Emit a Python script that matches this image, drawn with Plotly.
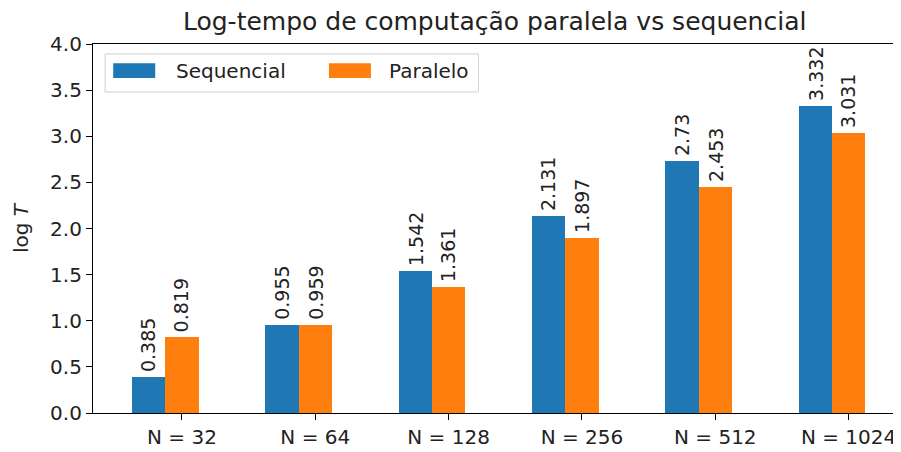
import plotly.graph_objects as go

categories = ["N = 32", "N = 64", "N = 128", "N = 256", "N = 512", "N = 1024"]
sequencial = [0.385, 0.955, 1.542, 2.131, 2.73, 3.332]
paralelo = [0.819, 0.959, 1.361, 1.897, 2.453, 3.031]
labels_seq = ["0.385", "0.955", "1.542", "2.131", "2.73", "3.332"]
labels_par = ["0.819", "0.959", "1.361", "1.897", "2.453", "3.031"]

BLUE = "#1f77b4"
ORANGE = "#ff7f0e"
FONT = "DejaVu Sans"
width = 0.25

pos = list(range(len(categories)))
x_seq = [p - width for p in pos]
x_par = pos

fig = go.Figure()
fig.add_trace(go.Bar(x=x_seq, y=sequencial, width=width, marker=dict(color=BLUE, line=dict(width=0)),
                     name="Sequencial", showlegend=False))
fig.add_trace(go.Bar(x=x_par, y=paralelo, width=width, marker=dict(color=ORANGE, line=dict(width=0)),
                     name="Paralelo", showlegend=False))

# value labels, rotated like the original
for xs, ys, ls in [(x_seq, sequencial, labels_seq), (x_par, paralelo, labels_par)]:
    for x, y, t in zip(xs, ys, ls):
        fig.add_annotation(x=x, y=y, text=t, textangle=-90, showarrow=False,
                           xanchor="center", yanchor="bottom", yshift=3,
                           font=dict(family=FONT, size=19, color="#222"))

# legend drawn by hand (matplotlib style wide patches)
fig.add_shape(type="rect", xref="paper", yref="paper", x0=0.015, x1=0.477, y0=0.870, y1=0.973,
              line=dict(color="#d0d0d0", width=1), fillcolor="white", layer="above")
for x0, tx, color, txt in [(0.025, 0.1003, BLUE, "Sequencial"), (0.292, 0.364, ORANGE, "Paralelo")]:
    fig.add_shape(type="rect", xref="paper", yref="paper", x0=x0, x1=x0 + 0.052, y0=0.908, y1=0.948,
                  line=dict(width=0), fillcolor=color, layer="above")
    fig.add_annotation(xref="paper", yref="paper", x=tx, y=0.927, text=txt, showarrow=False,
                       xanchor="left", yanchor="middle", font=dict(family=FONT, size=20, color="#222"))

# page body has an 8px margin, so the figure is sized to the visible area
fig.update_layout(
    title=dict(text="Log-tempo de computação paralela vs sequencial", x=0.545, xanchor="center",
               y=0.971, yanchor="middle", font=dict(family=FONT, size=25, color="#222")),
    width=893, height=444,
    margin=dict(l=85, r=0, t=36, b=39),
    plot_bgcolor="white", paper_bgcolor="white",
    barmode="overlay", bargap=0,
    font=dict(family=FONT, size=20, color="#222"),
)
fig.update_xaxes(range=[-0.667, 5.393], tickvals=pos, ticktext=categories, showgrid=False, zeroline=False,
                 showline=True, linecolor="black", linewidth=1.2, mirror=True, automargin=False,
                 ticks="outside", ticklen=6, tickcolor="black", tickfont=dict(size=20))
fig.update_yaxes(range=[0, 4], dtick=0.5, tickformat=".1f", showgrid=False, zeroline=False,
                 showline=True, linecolor="black", linewidth=1.2, mirror=False, automargin=False,
                 ticks="outside", ticklen=6, tickcolor="black", tickfont=dict(size=20),
                 title=dict(text="log <i>T</i>", font=dict(size=20), standoff=16))

fig.write_html("out.html")
